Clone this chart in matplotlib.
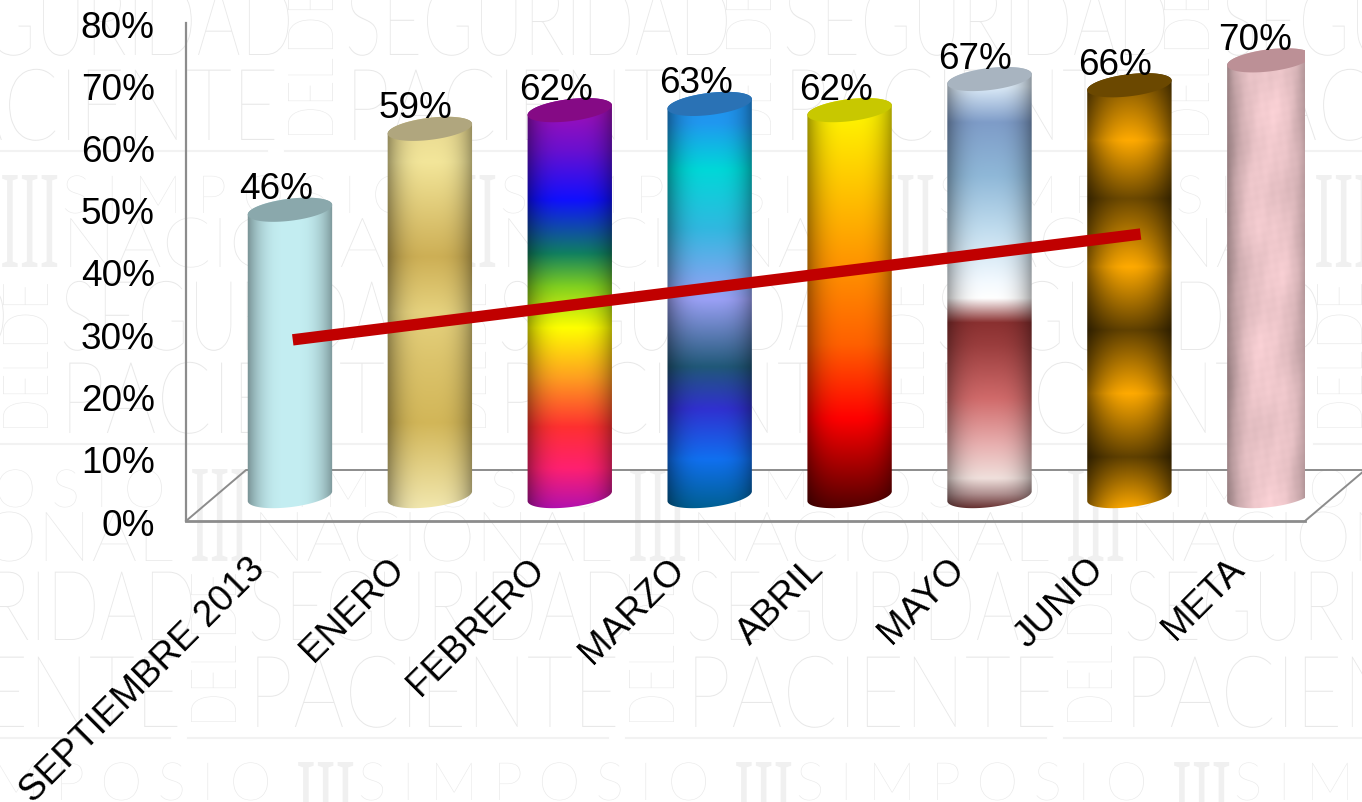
import numpy as np
import matplotlib
matplotlib.use("Agg")
import matplotlib.pyplot as plt
from matplotlib.colors import to_rgb
from matplotlib.font_manager import FontProperties
from matplotlib.patches import Polygon
from matplotlib.patheffects import AbstractPathEffect
from matplotlib.textpath import TextPath
from matplotlib.transforms import Affine2D

plt.rcParams['font.family'] = ['Liberation Sans', 'DejaVu Sans']

categories = ["SEPTIEMBRE 2013", "ENERO", "FEBRERO", "MARZO", "ABRIL", "MAYO", "JUNIO", "META"]
values = [46, 59, 62, 63, 62, 67, 66, 70]
y_ticks = [0, 10, 20, 30, 40, 50, 60, 70, 80]
trend_x = [0.02, 6.08]
trend_y = [29.1, 46.1]

# colour stops of each column, top to bottom
stops = [
    [(0, "#c4eef2"), (1, "#c4eef2")],
    [(0, "#e6d68e"), (.12, "#f3e69a"), (.3, "#d6bc66"), (.36, "#cdaf55"), (.5, "#e6d27e"),
     (.62, "#dcc46c"), (.78, "#d2b658"), (.9, "#e4d288"), (1, "#f2e8b0")],
    [(0, "#b010b0"), (.13, "#6a10d0"), (.25, "#1010ff"), (.38, "#108060"), (.46, "#80d020"),
     (.56, "#ffff00"), (.68, "#ffa020"), (.8, "#ff3030"), (.9, "#ff2070"), (1, "#b010b0")],
    [(0, "#2090f0"), (.08, "#2098f0"), (.19, "#00d8d8"), (.33, "#30b8e0"), (.5, "#9aa0f5"),
     (.66, "#205878"), (.76, "#3030d0"), (.88, "#1070f0"), (1, "#005f90")],
    [(0, "#ffff00"), (.3, "#ffb000"), (.6, "#ff6000"), (.78, "#ff0000"), (1, "#500000")],
    [(0, "#e0eefa"), (.05, "#dcebf8"), (.13, "#7e9cc8"), (.25, "#8fb8d8"), (.37, "#c0dcee"),
     (.49, "#f4faff"), (.525, "#ffffff"), (.58, "#8a3030"), (.63, "#9a3d3d"), (.75, "#d06a6a"),
     (.855, "#e8b0b0"), (.93, "#f0e0dc"), (.965, "#b09090"), (1, "#602828")],
    [(0, "#6b4800"), (.157, "#ffaa00"), (.29, "#6b4800"), (.446, "#ffaa00"), (.59, "#5f4000"),
     (.735, "#ffaa00"), (.88, "#5f4000"), (1, "#ffaa00")],
    [(0, "#efc8cc"), (1, "#efc8cc")],
]
cap_colors = ["#8aa8ac", "#b0a67e", "#850a85", "#2a72b5", "#c8c800", "#a8b4c0", "#6b4800", "#bc9096"]

# pixel scale of the chart axes
PX_X = 139.9
PX_Y = 6.225
DEPTH = 4.0
RX, RY, TILT = 42.5, 11, np.radians(7)


class Stretch(AbstractPathEffect):
    # scales the glyphs of a text around its anchor
    def __init__(self, anchor, sx, sy):
        super().__init__()
        self.anchor, self.sx, self.sy = anchor, sx, sy

    def draw_path(self, renderer, gc, tpath, affine, rgbFace=None):
        ax_, ay_ = self.anchor
        extra = Affine2D().translate(-ax_, -ay_).scale(self.sx, self.sy).translate(ax_, ay_)
        renderer.draw_path(gc, tpath, affine + extra, rgbFace)


WM_FONT = FontProperties(family=['Lato', 'Liberation Sans'], weight='light')
WM_SERIF = FontProperties(family=['Liberation Serif'])
WM_SIZE = 40


def wm_text(ax, x, y, s, w, h, vertical=False, font=WM_FONT, color="#e8e8e8"):
    ext = TextPath((0, 0), s, size=WM_SIZE, prop=font).get_extents()
    bw, bh = ext.width * 100 / 72, ext.height * 100 / 72
    anchor = ax.transData.transform((x, y))
    sx, sy = (h / bh, w / bw) if vertical else (w / bw, h / bh)
    t = ax.text(x, y, s, fontproperties=font, fontsize=WM_SIZE, color=color,
                ha='left', va='baseline', rotation=90 if vertical else 0,
                rotation_mode='anchor', zorder=1)
    t.set_path_effects([Stretch(anchor, sx, sy)])


def backdrop(ax):
    period = 438
    # word start of each row
    for base, start in [(55, 345), (350, 60), (640, 248)]:
        for k in range(-1, 4):
            x = start + k * period
            wm_text(ax, x, base, "SEGURIDAD", 378, 70)
            wm_text(ax, x - 12, base, "DE", 60, 45, vertical=True)
    for base, start in [(140, 345), (433, 60), (727, 248)]:
        for k in range(-1, 4):
            x = start + k * period
            wm_text(ax, x, base, "PACIENTE", 358, 72)
            wm_text(ax, x - 12, base, "DEL", 76, 45, vertical=True)
            ax.plot([x - 60, x + 360], [base + 11, base + 11], color="#f2f2f2", lw=1.5, zorder=1)
    for top, start in [(173, 0), (467, 190), (760, 296)]:
        for k in range(-1, 4):
            x = start + k * period
            wm_text(ax, x, top + 94, "III", 55, 92, font=WM_SERIF, color="#f0f0f0")
            wm_text(ax, x + 62, top + 40, "S I M P O S I O", 345, 38)
            wm_text(ax, x + 62, top + 94, "NACIONAL", 350, 50)


def ellipse_pts(cx, cy, t):
    dx = RX * np.cos(t) * np.cos(TILT) - RY * np.sin(t) * np.sin(TILT)
    dy = RX * np.cos(t) * np.sin(TILT) + RY * np.sin(t) * np.cos(TILT)
    return np.column_stack([cx + dx / PX_X, cy + dy / PX_Y])


def column_image(i):
    rows, cols = 420, 90
    frac = np.linspace(0, 1, rows)
    pos = [p for p, c in stops[i]]
    rgb = np.array([to_rgb(c) for p, c in stops[i]])
    col = np.stack([np.interp(frac, pos, rgb[:, k]) for k in range(3)], axis=1)
    img = np.repeat(col[:, None, :], cols, axis=1)
    s = np.linspace(-1, 1, cols)
    if i == 7:
        # marble grain
        yy, xx = np.mgrid[0:rows, 0:cols]
        grain = (np.sin(xx * .11 + yy * .037) + np.sin(xx * .067 - yy * .053 + 1.7)
                 + np.sin(xx * .23 + yy * .091 + .6) * np.sin(yy * .031 - xx * .19)
                 + .5 * np.sin(xx * .47 + yy * .29) * np.sin(xx * .31 - yy * .43)) / 3
        img = img * (1 + .05 * grain[:, :, None])
    shade = 1 - (.6 * np.abs(s) ** 2 if i == 6 else .45 * np.abs(s) ** 3)
    return np.clip(img * shade[None, :, None], 0, 1)


fig = plt.figure(figsize=(13.62, 8.02), dpi=100)

bg = fig.add_axes([0, 0, 1, 1], zorder=0)
bg.set_xlim(0, 1362)
bg.set_ylim(802, 0)
bg.axis('off')
backdrop(bg)

ax = fig.add_axes([186 / 1362, (802 - 521) / 802, 1119 / 1362, 498 / 802], zorder=1)
ax.patch.set_alpha(0)
xmin, xmax = -0.743, 7.255

# floor of the plot box
fx, fy = 60 / PX_X, 51 / PX_Y
ax.plot([xmin, xmin + fx, xmax + fx, xmax], [0, fy, fy, 0], color="#8c8c8c", lw=1.4,
        clip_on=False, zorder=1)

for i, v in enumerate(values):
    t_top = np.linspace(np.pi, 0, 60)
    t_low = np.linspace(0, -np.pi, 60)
    body = np.vstack([ellipse_pts(i, v + DEPTH, t_top), ellipse_pts(i, DEPTH, t_low)])
    ybot = DEPTH - 14 / PX_Y
    ytop = v + DEPTH + 14 / PX_Y
    im = ax.imshow(column_image(i), extent=[i - 45 / PX_X, i + 45 / PX_X, ybot, ytop],
                   aspect='auto', interpolation='bilinear', zorder=3)
    clip = Polygon(body, closed=True, transform=ax.transData, fc='none', ec='none')
    ax.add_patch(clip)
    im.set_clip_path(clip)
    cap = ellipse_pts(i, v + DEPTH, np.linspace(0, 2 * np.pi, 80))
    ax.add_patch(Polygon(cap, closed=True, fc=cap_colors[i], ec='none', zorder=4))
    ax.annotate(f"{v}%", (i, v + DEPTH), xytext=(-14 * .72, 20 * .72), textcoords='offset points',
                ha='center', va='center', fontsize=26.6, color='black', zorder=6)

ax.plot(trend_x, trend_y, color="#c00000", lw=8.2, solid_capstyle='butt', zorder=5)

ax.set_xlim(xmin, xmax)
ax.set_ylim(0, 80)
ax.set_yticks(y_ticks)
ax.set_yticklabels([f"{t}%" for t in y_ticks], fontsize=26.6)
ax.set_xticks(range(len(categories)))
ax.set_xticklabels(categories, fontsize=26.6, rotation=45, ha='right', va='top', rotation_mode='anchor')
ax.tick_params(axis='y', length=0, pad=22.5)
ax.tick_params(axis='x', length=0, pad=22)
for lab in ax.get_yticklabels():
    lab.set_transform(lab.get_transform() + Affine2D().translate(0, -1))
for lab in ax.get_xticklabels():
    lab.set_transform(lab.get_transform() + Affine2D().translate(-43, 0))
for name in ['top', 'right']:
    ax.spines[name].set_visible(False)
ax.spines['left'].set_color("#8c8c8c")
ax.spines['left'].set_linewidth(1.6)
ax.spines['bottom'].set_color("#8c8c8c")
ax.spines['bottom'].set_linewidth(2)

fig.savefig("out.png", dpi=100)
